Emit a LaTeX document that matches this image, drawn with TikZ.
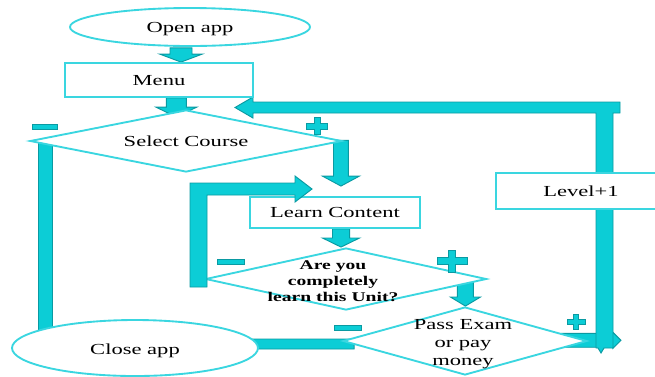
\documentclass[tikz,border=0pt]{standalone}
\usepackage{fontspec}
\setmainfont{Liberation Serif}[FakeStretch=1.47]
\usetikzlibrary{shapes.geometric,calc,backgrounds}
\definecolor{turq}{HTML}{0CCDD6}
\definecolor{turqdk}{HTML}{0A9AA2}
\definecolor{edgec}{HTML}{3AD6E0}
\newcommand\minusmark[3]{\draw[blk] ({#1-#3},{#2-2.3}) rectangle ({#1+#3},{#2+2.3});}
\newcommand\plusmark[5]{\draw[blk] ({#1-#3},{#2-#5}) -- ({#1-#5},{#2-#5}) -- ({#1-#5},{#2-#4}) -- ({#1+#5},{#2-#4}) -- ({#1+#5},{#2-#5}) -- ({#1+#3},{#2-#5}) -- ({#1+#3},{#2+#5}) -- ({#1+#5},{#2+#5}) -- ({#1+#5},{#2+#4}) -- ({#1-#5},{#2+#4}) -- ({#1-#5},{#2+#5}) -- ({#1-#3},{#2+#5}) -- cycle;}
\begin{document}
\begin{tikzpicture}[x=0.75pt,y=-0.75pt,
  blk/.style={fill=turq,draw=turqdk,line width=0.7pt,line join=miter},
  box/.style={draw=edgec,fill=white,line width=1.4pt,rectangle,inner sep=0pt},
  oval/.style={draw=edgec,fill=white,line width=1.4pt,ellipse,inner sep=0pt},
  dia/.style={draw=edgec,fill=white,line width=1.4pt,diamond,inner sep=0pt,aspect=5},
  lbl/.style={font=\fontsize{11.5}{13.5}\selectfont,align=center,inner sep=0pt},
  tl/.style={lbl,text height=7.6pt,text depth=0pt},
  blbl/.style={font=\bfseries\fontsize{10}{12}\selectfont,align=center,inner sep=0pt},
  darrow/.style args={#1/#2/#3}{to path={let \p1=(\tikztostart),\p2=(\tikztotarget) in
    (\x1-#1,\y1) -- (\x1+#1,\y1) -- (\x1+#1,\y2+#3) -- (\x1+#2,\y2+#3) -- (\x1,\y2)
    -- (\x1-#2,\y2+#3) -- (\x1-#1,\y2+#3) -- cycle}},
  harrow/.style args={#1/#2/#3}{to path={let \p1=(\tikztostart),\p2=(\tikztotarget),
    \n1={ifthenelse(\x2>\x1,-1,1)} in
    (\x1,\y1-#1) -- (\x1,\y1+#1) -- (\x2+\n1*#3,\y1+#1) -- (\x2+\n1*#3,\y1+#2) -- (\x2,\y1)
    -- (\x2+\n1*#3,\y1-#2) -- (\x2+\n1*#3,\y1-#1) -- cycle}}]
\useasboundingbox (0,0) rectangle (655,376);

% shapes
\node[oval,minimum width=180pt,minimum height=28.5pt,tl] (open) at (190,27) {Open app};
\node[box,minimum width=141pt,minimum height=25.5pt,tl] (menu) at (159,80) {Menu};
\node[dia,minimum width=234pt,minimum height=46.5pt,tl] (sc) at (186,141) {Select Course};
\node[box,minimum width=127.5pt,minimum height=23.25pt,tl] (learn) at (335,212.5) {Learn Content};
\node[box,minimum width=127.5pt,minimum height=27pt,tl] (level) at (581,191) {Level+1};
\node[dia,minimum width=210.75pt,minimum height=46.5pt] (ay) at (346,279) {};
\node[blbl] (aytext) at (333,281) {Are you\\completely\\learn this Unit?};
\node[dia,minimum width=183pt,minimum height=51pt] (pass) at (465,341) {};
\node[lbl] (passtext) at (463,344) {Pass Exam\\or pay\\money};
\node[oval,minimum width=184.5pt,minimum height=42pt] (close) at (135,348) {};
\node[tl] (closetext) at (135,349.5) {Close app};

% block arrows behind the shapes
\begin{pgfonlayer}{background}
  \path[blk] ([xshift=-6.75pt,yshift=-0.75pt]open.south) to[darrow=8.25pt/16pt/6pt] (menu.north);
  \path[blk] ([xshift=13pt]menu.south) to[darrow=7.5pt/15.4pt/7.5pt] ([yshift=-6pt]sc.north);
  \path[blk] ([xshift=-1.5pt,yshift=0.5pt]sc.east) to[darrow=5.6pt/13.9pt/7.5pt] ([yshift=7.5pt]learn.north);
  \path[blk] ([xshift=4.5pt]learn.south) to[darrow=6.4pt/13.9pt/6.8pt] (ay.north);
  \path[blk] ([xshift=-16.5pt]ay.east) to[darrow=6pt/11.3pt/6.8pt] (pass.north);
  % left bar from Select Course down to Close app
  \draw[blk] ([xshift=7pt]sc.west) rectangle ([xshift=-62pt,yshift=-2pt]close.center);
  % from Pass Exam left into Close app
  \path[blk] ([xshift=9pt,yshift=-2.25pt]pass.west) to[harrow=3.75pt/9pt/9pt] ([xshift=-28pt,yshift=3pt]close.east);
  % from Pass Exam right
  \path[blk] ([xshift=-20pt,yshift=0.5pt]pass.east) to[harrow=5.2pt/6pt/6pt] ([xshift=24.75pt]pass.east);
  % right bar and top return arrow to Select Course
  \draw[blk] (620,102) -- (620,113) -- (613,113) -- (613,348) -- (604,348) -- (601,353) -- (598,348)
    -- (596,348) -- (596,113) -- (253,113) -- (253,118) -- (235,107.5) -- (253,97) -- (253,102) -- cycle;
\end{pgfonlayer}

% loop from "Are you" back to Learn Content
\draw[blk] (190,287) -- (207,287) -- (207,195) -- (295,195) -- (295,202) -- (312,189) -- (295,176)
  -- (295,183) -- (190,183) -- cycle;

% signs
\minusmark{45}{127}{12.5}
\plusmark{317}{126}{10.5}{8.5}{3}
\minusmark{231}{262}{13.5}
\plusmark{452}{261}{15}{11}{3.5}
\minusmark{348}{328}{13.5}
\plusmark{576}{322}{9}{7.5}{2.5}
\end{tikzpicture}
\end{document}
